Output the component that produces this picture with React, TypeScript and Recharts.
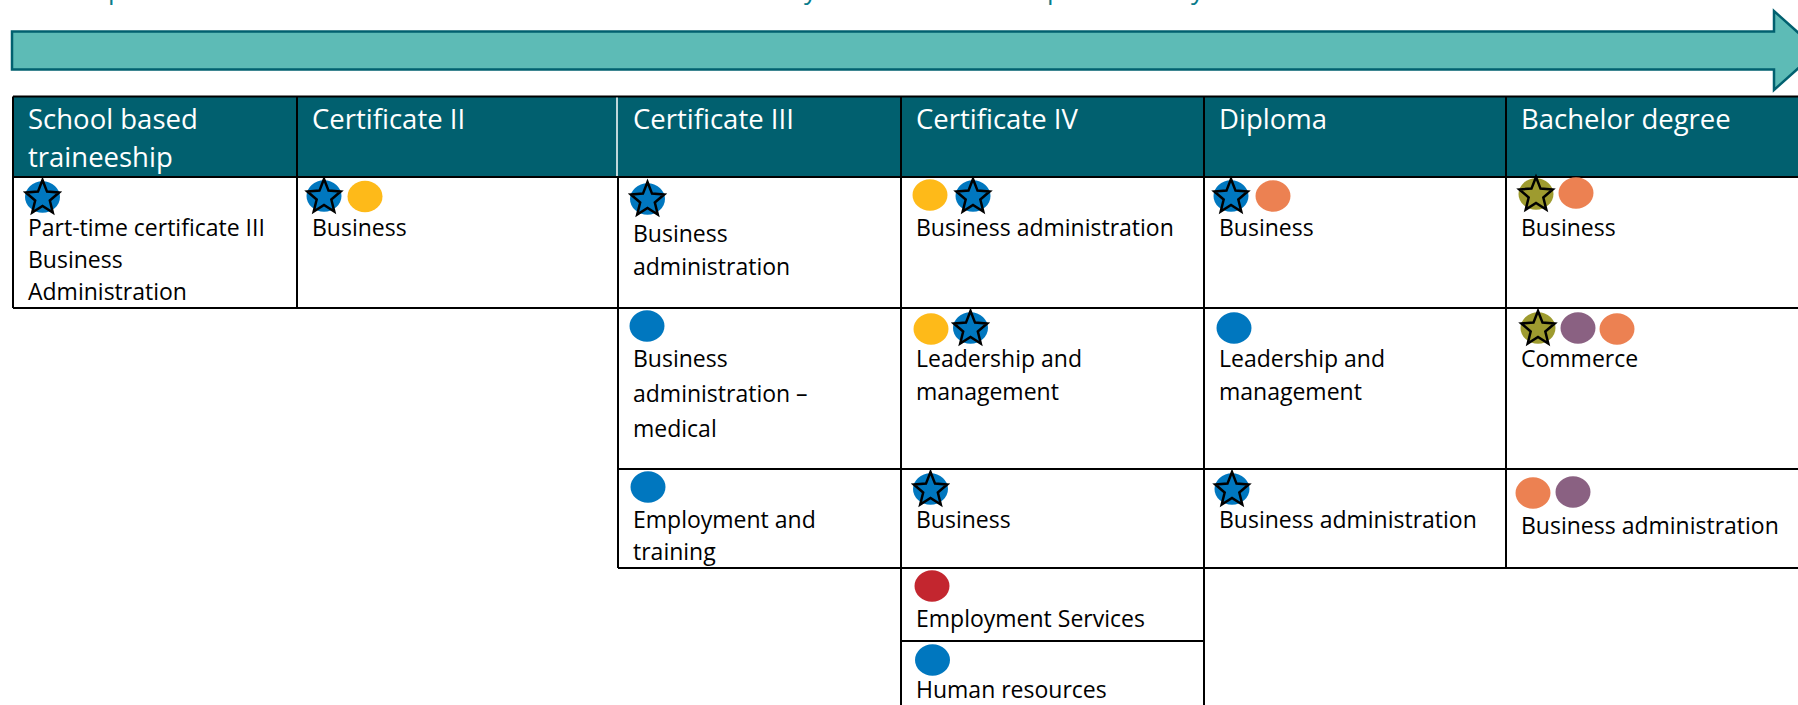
import { ScatterChart, Scatter, XAxis, YAxis, ReferenceArea, ReferenceLine } from 'recharts'

const WIDTH = 1798
const HEIGHT = 705

const GREEN = '#01606F'
const BLUE = '#0077BF'
const YELLOW = '#FEBA19'
const ORANGE = '#EC8152'
const PURPLE = '#8A6182'
const OLIVE = '#9E9B2F'
const RED = '#C3262F'

// column and row edges of the table
const colEdges = [13, 297, 618, 901, 1204, 1506]
const rowEdges = [96.5, 177, 308, 469, 568, 641]

const verticalRules = [
  { x: 13, from: 96.5, to: 308 },
  { x: 297, from: 96.5, to: 308 },
  { x: 618, from: 177, to: 568 },
  { x: 901, from: 96.5, to: 705 },
  { x: 1204, from: 96.5, to: 705 },
  { x: 1506, from: 96.5, to: 568 },
]

const horizontalRules = [
  { y: 96.5, from: 13, to: 1798 },
  { y: 177, from: 13, to: 1798 },
  { y: 308, from: 13, to: 1798 },
  { y: 469, from: 618, to: 1798 },
  { y: 568, from: 618, to: 1798 },
  { y: 641, from: 901, to: 1204 },
]

const headerLabels = [
  { col: 0, y: 129, text: 'School based' },
  { col: 0, y: 167, text: 'traineeship' },
  { col: 1, y: 129, text: 'Certificate II' },
  { col: 2, y: 129, text: 'Certificate III' },
  { col: 3, y: 129, text: 'Certificate IV' },
  { col: 4, y: 129, text: 'Diploma' },
  { col: 5, y: 129, text: 'Bachelor degree' },
]

const cellLabels = [
  { col: 0, y: 236, text: 'Part-time certificate III' },
  { col: 0, y: 268, text: 'Business' },
  { col: 0, y: 300, text: 'Administration' },
  { col: 1, y: 236, text: 'Business' },
  { col: 2, y: 241.5, text: 'Business' },
  { col: 2, y: 274.5, text: 'administration' },
  { col: 3, y: 236, text: 'Business administration' },
  { col: 4, y: 236, text: 'Business' },
  { col: 5, y: 236, text: 'Business' },
  { col: 2, y: 366.5, text: 'Business' },
  { col: 2, y: 401.5, text: 'administration –' },
  { col: 2, y: 436.5, text: 'medical' },
  { col: 3, y: 366.5, text: 'Leadership and' },
  { col: 3, y: 400, text: 'management' },
  { col: 4, y: 366.5, text: 'Leadership and' },
  { col: 4, y: 400, text: 'management' },
  { col: 5, y: 366.5, text: 'Commerce' },
  { col: 2, y: 527.5, text: 'Employment and' },
  { col: 2, y: 559.5, text: 'training' },
  { col: 3, y: 527.5, text: 'Business' },
  { col: 4, y: 527.5, text: 'Business administration' },
  { col: 5, y: 534, text: 'Business administration' },
  { col: 3, y: 627, text: 'Employment Services' },
  { col: 3, y: 698, text: 'Human resources' },
]

const plainDots = [
  { x: 365, y: 196.5, color: YELLOW },
  { x: 930, y: 195, color: YELLOW },
  { x: 1273, y: 196, color: ORANGE },
  { x: 1576, y: 193, color: ORANGE },
  { x: 647, y: 326, color: BLUE },
  { x: 931, y: 329, color: YELLOW },
  { x: 1234, y: 328, color: BLUE },
  { x: 1578, y: 328, color: PURPLE },
  { x: 1617, y: 329, color: ORANGE },
  { x: 648, y: 487, color: BLUE },
  { x: 1533, y: 493, color: ORANGE },
  { x: 1573, y: 492, color: PURPLE },
  { x: 932, y: 586, color: RED },
  { x: 932.5, y: 660, color: BLUE },
]

const starDots = [
  { x: 42.5, y: 197, color: BLUE },
  { x: 324, y: 196, color: BLUE },
  { x: 647.5, y: 199, color: BLUE },
  { x: 973, y: 196, color: BLUE },
  { x: 1231, y: 196, color: BLUE },
  { x: 1536, y: 194, color: OLIVE },
  { x: 970.5, y: 328, color: BLUE },
  { x: 1538, y: 328, color: OLIVE },
  { x: 930.5, y: 489, color: BLUE },
  { x: 1232, y: 489, color: BLUE },
]

// only the tails of a heading cut off by the top edge are left
const cutOffLetters = [
  { x: 108, y: 0, text: 'p' },
  { x: 804, y: 0, text: 'y' },
  { x: 1047, y: 0, text: 'p' },
  { x: 1191, y: 0, text: 'y' },
]

const withColX = (rows: { col: number; y: number; text: string }[]) =>
  rows.map((r) => ({ ...r, x: colEdges[r.col] }))

const starPoints = (cx: number, cy: number) => {
  const pts: string[] = []
  for (let i = 0; i < 10; i++) {
    const r = i % 2 === 0 ? 1 : 0.44
    const a = -Math.PI / 2 + (i * Math.PI) / 5
    pts.push(`${cx + 17.5 * r * Math.cos(a)},${cy + 1 + 18 * r * Math.sin(a)}`)
  }
  return pts.join(' ')
}

const Dot = ({ cx, cy, payload }: any) => (
  <ellipse cx={cx} cy={cy} rx={17.5} ry={15.7} fill={payload.color} />
)

const StarDot = ({ cx, cy, payload }: any) => (
  <g>
    <ellipse cx={cx} cy={cy} rx={17.5} ry={15.7} fill={payload.color} />
    <polygon points={starPoints(cx, cy)} fill="none" stroke="#000" strokeWidth={2.5} strokeLinejoin="miter" />
  </g>
)

const HeaderText = ({ cx, cy, payload }: any) => (
  <text x={cx + 15} y={cy} fontFamily="Open Sans" fontSize={27.5} fill="#fff">
    {payload.text}
  </text>
)

const CellText = ({ cx, cy, payload }: any) => (
  <text x={cx + 15} y={cy} fontFamily="Open Sans" fontSize={23} fill="#000">
    {payload.text}
  </text>
)

const CutOffText = ({ cx, cy, payload }: any) => (
  <text x={cx} y={cy - 1} fontFamily="Open Sans" fontSize={26} fill="#0A7C8C">
    {payload.text}
  </text>
)

const ArrowShape = ({ x, y, width, height }: any) => {
  const headStart = x + width - 44
  const top = y + 20.5
  const bottom = y + height - 20.5
  const pts = [
    [x, top],
    [headStart, top],
    [headStart, y],
    [x + width, y + height / 2],
    [headStart, y + height],
    [headStart, bottom],
    [x, bottom],
  ]
  return <polygon points={pts.map((p) => p.join(',')).join(' ')} fill="#5DBBB6" stroke={GREEN} strokeWidth={2.5} />
}

export default function App() {
  return (
    <div style={{ position: 'absolute', left: 0, top: 0, width: WIDTH, height: HEIGHT, background: '#fff' }}>
      <ScatterChart width={WIDTH} height={HEIGHT} margin={{ top: 0, right: 0, bottom: 0, left: 0 }}>
        <XAxis type="number" dataKey="x" domain={[0, WIDTH]} hide />
        <YAxis type="number" dataKey="y" domain={[0, HEIGHT]} reversed hide />

        <ReferenceArea x1={12} x2={1818} y1={11} y2={90} ifOverflow="visible" shape={<ArrowShape />} />
        <ReferenceArea x1={colEdges[0]} x2={WIDTH} y1={rowEdges[0]} y2={rowEdges[1]} fill={GREEN} fillOpacity={1} stroke="none" />

        {verticalRules.map((r) => (
          <ReferenceLine key={r.x} segment={[{ x: r.x, y: r.from }, { x: r.x, y: r.to }]} stroke="#000" strokeWidth={2} />
        ))}
        {horizontalRules.map((r) => (
          <ReferenceLine key={r.y} segment={[{ x: r.from, y: r.y }, { x: r.to, y: r.y }]} stroke="#000" strokeWidth={2} />
        ))}
        <ReferenceLine segment={[{ x: 617, y: rowEdges[0] + 1 }, { x: 617, y: rowEdges[1] - 1 }]} stroke="#fff" strokeWidth={1.5} />

        <Scatter data={plainDots} shape={<Dot />} isAnimationActive={false} />
        <Scatter data={starDots} shape={<StarDot />} isAnimationActive={false} />
        <Scatter data={withColX(headerLabels)} shape={<HeaderText />} isAnimationActive={false} />
        <Scatter data={withColX(cellLabels)} shape={<CellText />} isAnimationActive={false} />
        <Scatter data={cutOffLetters} shape={<CutOffText />} isAnimationActive={false} />
      </ScatterChart>
    </div>
  )
}
